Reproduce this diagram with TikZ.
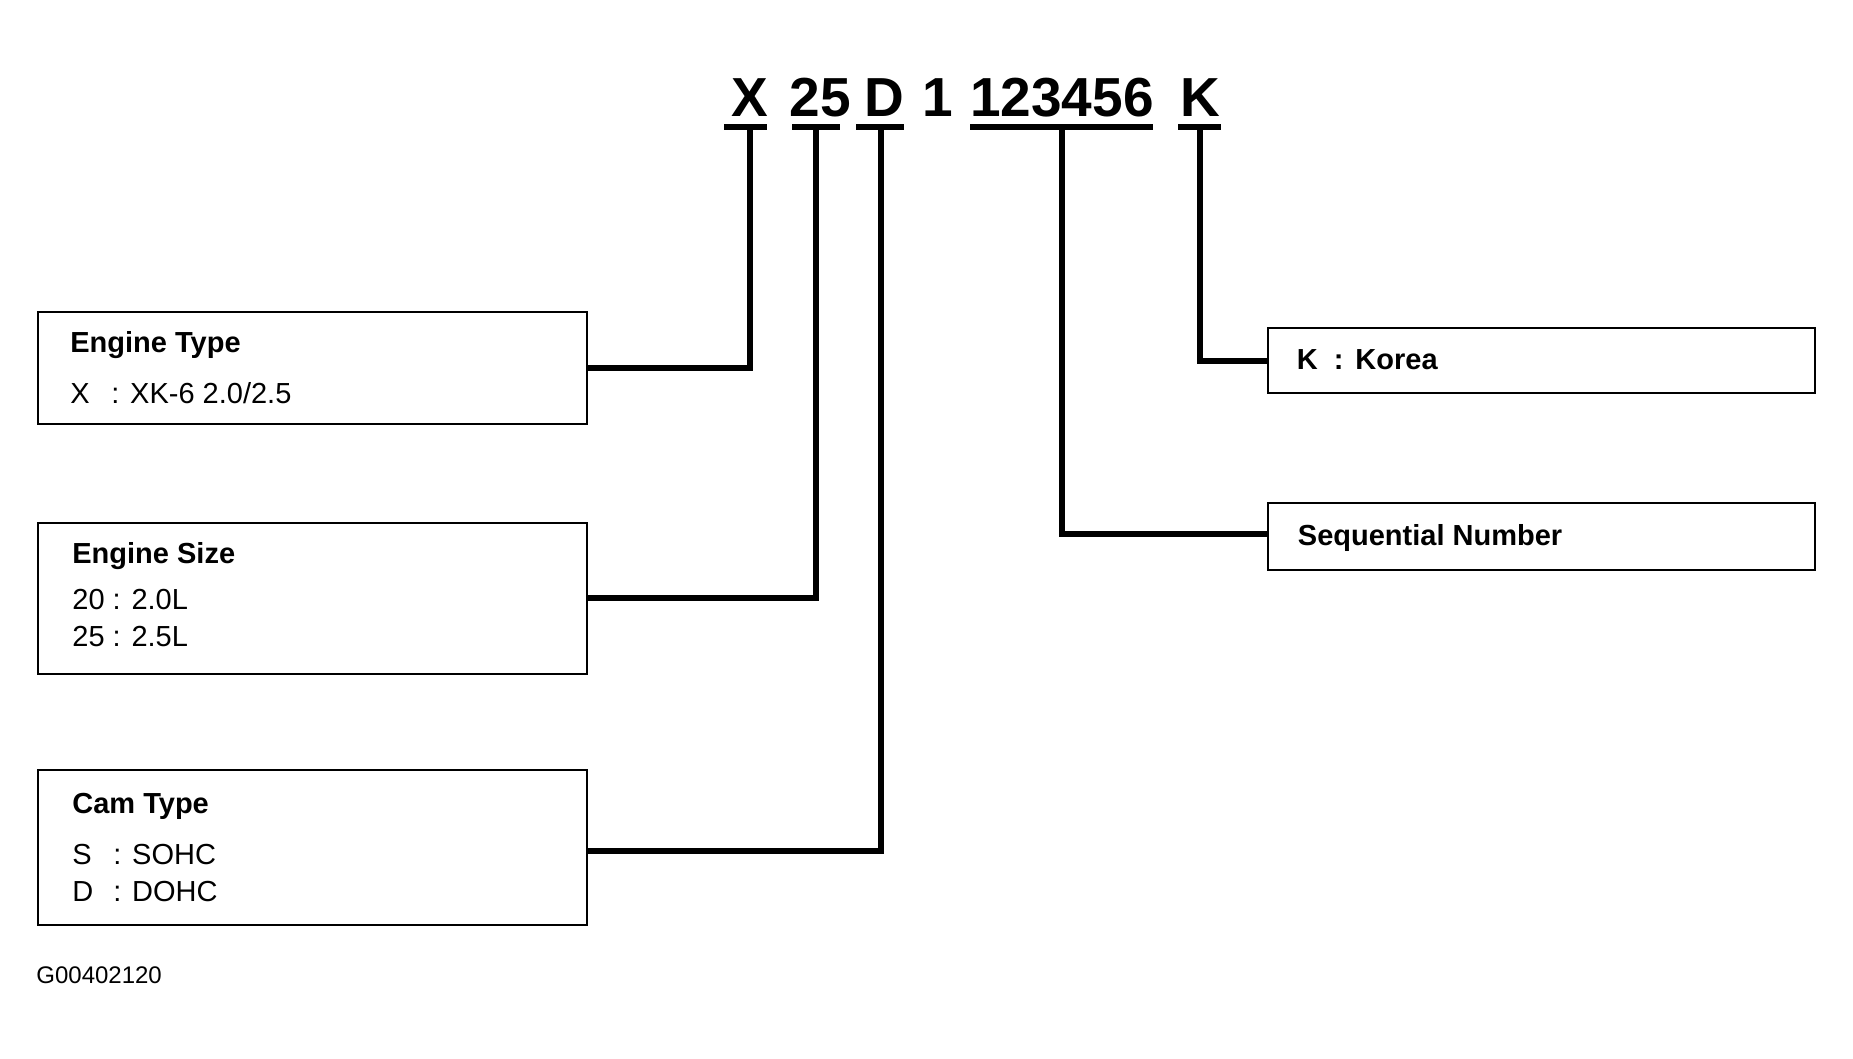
\documentclass[tikz,border=0pt]{standalone}
\usepackage{fontspec}
\setmainfont{Liberation Sans}
\begin{document}
\begin{tikzpicture}[x=0.5pt,y=-0.5pt,
  box/.style={draw, line width=1.2pt, anchor=north west, inner sep=0pt},
  lbl/.style={anchor=base west, inner sep=0pt, font=\fontsize{14.5}{17}\selectfont},
  ttl/.style={anchor=base west, inner sep=0pt, font=\fontsize{14.5}{17}\selectfont\bfseries},
  big/.style={anchor=base, inner sep=0pt, font=\fontsize{27.5}{31}\selectfont\bfseries},
  conn/.style={line width=3pt},
  uline/.style={line width=3pt}]
\useasboundingbox[fill=white] (0,0) rectangle (1853,1059);

% code characters
\node[big] (cX) at (750,117) {X};
\node[big] (c25) at (820,117) {25};
\node[big] (cD) at (884,117) {D};
\node[big] (c1) at (938,117) {1};
\node[big] (cSeq) at (1062,117) {123456};
\node[big] (cK) at (1200,117) {K};

% underlines
\draw[uline] (724,127) -- (767,127);
\draw[uline] (792,127) -- (840,127);
\draw[uline] (856,127) -- (904,127);
\draw[uline] (970,127) -- (1153,127);
\draw[uline] (1178,127) -- (1221,127);

\coordinate (uX) at (750,127);
\coordinate (u25) at (816,127);
\coordinate (uD) at (881,127);
\coordinate (uSeq) at (1062,127);
\coordinate (uK) at (1200,127);

% boxes
\node[box, minimum width=274.5pt, minimum height=56pt] (etype) at (37,311) {};
\node[box, minimum width=274.5pt, minimum height=75.5pt] (esize) at (37,521.5) {};
\node[box, minimum width=274.3pt, minimum height=77.5pt] (ctype) at (37,768.5) {};
\node[box, minimum width=273.75pt, minimum height=32.5pt] (kbox) at (1266.5,327) {};
\node[box, minimum width=273.75pt, minimum height=33.5pt] (seq) at (1266.5,502) {};

% box texts
\node[ttl] (etypeT) at (70,352) {Engine Type};
\node[lbl] (etypeX) at (70,403) {\makebox[20.5pt][l]{X}: XK-6 2.0/2.5};

\node[ttl] (esizeT) at (72,563) {Engine Size};
\node[lbl] (esize20) at (72,609) {20 : 2.0L};
\node[lbl] (esize25) at (72,646) {25 : 2.5L};

\node[ttl] (ctypeT) at (72,813) {Cam Type};
\node[lbl] (ctypeS) at (72,864) {\makebox[20.5pt][l]{S}: SOHC};
\node[lbl] (ctypeD) at (72,901) {\makebox[20.5pt][l]{D}: DOHC};

\node[ttl] (kT) at (1296.5,369) {K\hspace{8pt}:\hspace{6pt}Korea};
\node[ttl] (seqT) at (1297.5,545) {Sequential Number};

\node[anchor=base west, inner sep=0pt, font=\fontsize{12}{14}\selectfont] (gid) at (36,983.5) {G00402120};

% connectors
\coordinate (cEnd) at (588,851);
\coordinate (sEnd) at (1266.5,534);
\draw[conn] (etype.east) -| (uX);
\draw[conn] (esize.east) -| (u25);
\draw[conn] (ctype.east |- cEnd) -| (uD);
\draw[conn] (kbox.west) -| (uK);
\draw[conn] (seq.west |- sEnd) -| (uSeq);
\end{tikzpicture}
\end{document}
